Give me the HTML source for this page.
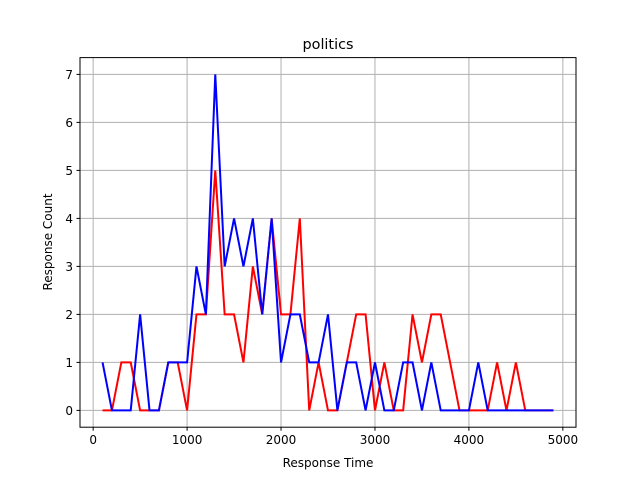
<!DOCTYPE html>
<html><head><meta charset="utf-8"><style>
body{margin:0;background:#fff;}
svg{display:block;font-family:"DejaVu Sans","Liberation Sans",sans-serif;}
</style></head><body>
<svg id="chart" width="640" height="480">
<rect width="640" height="480" fill="#fff"/>
<g id="grid"></g>
<g id="series"></g>
<rect x="80" y="57.6" width="496" height="369.6" fill="none" stroke="#000" stroke-width="1"/>
<g id="ticks"></g>
<text x="328" y="49" text-anchor="middle" font-size="14.4">politics</text>
<text x="328" y="467" text-anchor="middle" font-size="12">Response Time</text>
<text transform="translate(52,242) rotate(-90)" text-anchor="middle" font-size="12">Response Count</text>
</svg>
<script>
const xs=[100,200,300,400,500,600,700,800,900,1000,1100,1200,1300,1400,1500,1600,1700,1800,1900,2000,2100,2200,2300,2400,2500,2600,2700,2800,2900,3000,3100,3200,3300,3400,3500,3600,3700,3800,3900,4000,4100,4200,4300,4400,4500,4600,4700,4800,4900];
const redVals=[0,0,1,1,0,0,0,1,1,0,2,2,5,2,2,1,3,2,4,2,2,4,0,1,0,0,1,2,2,0,1,0,0,2,1,2,2,1,0,0,0,0,1,0,1,0,0,0,0];
const blueVals=[1,0,0,0,2,0,0,1,1,1,3,2,7,3,4,3,4,2,4,1,2,2,1,1,2,0,1,1,0,1,0,0,1,1,0,1,0,0,0,0,1,0,0,0,0,0,0,0,0];
const xTicks=[0,1000,2000,3000,4000,5000];
const yTicks=[0,1,2,3,4,5,6,7];
const NS="http://www.w3.org/2000/svg";
const L=80,R=576,T=57.6,B=427.2;
const x0=-140,x1=5140,y0=-0.35,y1=7.35;
const sx=v=>L+(v-x0)/(x1-x0)*(R-L);
const sy=v=>B-(v-y0)/(y1-y0)*(B-T);
const grid=document.getElementById('grid'),ticks=document.getElementById('ticks'),ser=document.getElementById('series');
function mk(tag,attrs,parent){const e=document.createElementNS(NS,tag);for(const k in attrs)e.setAttribute(k,attrs[k]);parent.appendChild(e);return e;}
xTicks.forEach(t=>{
  const g=mk('line',{x1:sx(t),x2:sx(t),y1:T,y2:B,stroke:'#b0b0b0','stroke-width':1},grid);
  
  
  const tk=mk('line',{x1:sx(t),x2:sx(t),y1:B,y2:B+3.5,stroke:'#000'},ticks);
  
  
  const tx=mk('text',{x:sx(t),y:B+17,'text-anchor':'middle','font-size':12},ticks);
  tx.textContent=t;
  
  
});
yTicks.forEach(t=>{
  const g=mk('line',{x1:L,x2:R,y1:sy(t),y2:sy(t),stroke:'#b0b0b0','stroke-width':1},grid);
  
  
  const tk=mk('line',{x1:L-3.5,x2:L,y1:sy(t),y2:sy(t),stroke:'#000'},ticks);
  
  
  const tx=mk('text',{x:L-7,y:sy(t)+4.5,'text-anchor':'end','font-size':12},ticks);
  tx.textContent=t;
  
  
});
function line(vals,color,name){
  const p=mk('polyline',{points:vals.map((v,i)=>sx(xs[i])+','+sy(v)).join(' '),fill:'none',stroke:color,'stroke-width':2,'stroke-linejoin':'miter'},ser);
  
  
}
line(redVals,'#ff0000','red-series-line');
line(blueVals,'#0000ff','blue-series-line');
</script>
</body></html>
